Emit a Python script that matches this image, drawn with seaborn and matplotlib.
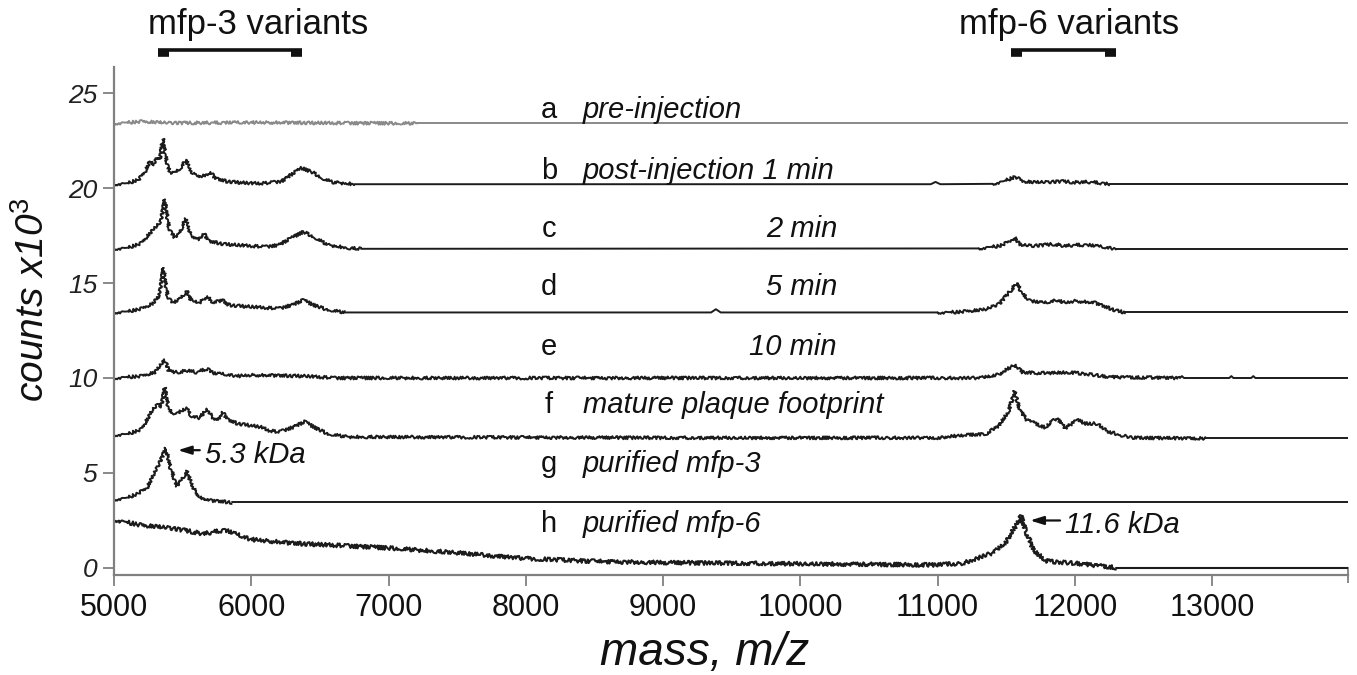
import numpy as np
import pandas as pd
import matplotlib
matplotlib.use("Agg")
import matplotlib.pyplot as plt
import seaborn as sns

sns.set_style("ticks")
plt.rcParams["font.family"] = ["Liberation Sans", "DejaVu Sans"]
plt.rcParams["mathtext.fontset"] = "custom"
plt.rcParams["mathtext.rm"] = "Liberation Sans"
plt.rcParams["mathtext.it"] = "Liberation Sans:italic"
plt.rcParams["mathtext.default"] = "it"

# ---------------- data (counts in thousands) ----------------
trace_ids = ["a", "b", "c", "d", "e", "f", "g", "h"]
trace_labels = ["pre-injection", "post-injection 1 min", "2 min", "5 min",
                "10 min", "mature plaque footprint", "purified mfp-3", "purified mfp-6"]

a_mz = [5000, 5200, 5400, 6000, 6600, 7210, 13990]
a_counts = [23.4, 23.5, 23.42, 23.45, 23.42, 23.4, 23.4]

b_mz = [5000, 5100, 5180, 5230, 5262, 5290, 5313, 5335, 5356, 5380, 5407, 5450, 5490, 5524,
        5550, 5575, 5640, 5705, 5740, 5820, 5900, 6000, 6100, 6220, 6300, 6367, 6440, 6520,
        6595, 6680, 6750, 10950, 10985, 11020, 11400, 11480, 11567, 11620, 11700, 11800,
        11900, 12000, 12100, 12180, 12250, 13990]
b_counts = [20.2, 20.25, 20.45, 20.9, 21.4, 21.2, 21.6, 21.5, 22.6, 21.5, 20.8, 20.8, 21.1, 21.5,
            21.0, 20.75, 20.6, 20.8, 20.5, 20.35, 20.3, 20.25, 20.25, 20.35, 20.75, 21.05, 20.85, 20.5,
            20.3, 20.25, 20.2, 20.2, 20.32, 20.2, 20.22, 20.35, 20.6, 20.35, 20.3, 20.3,
            20.35, 20.3, 20.32, 20.27, 20.2, 20.2]

c_mz = [5000, 5100, 5200, 5260, 5300, 5340, 5370, 5400, 5440, 5480, 5520, 5560, 5620, 5655,
        5690, 5800, 5900, 6000, 6100, 6200, 6300, 6380, 6460, 6560, 6700, 6800, 11300, 11450,
        11530, 11560, 11600, 11700, 11850, 11920, 12000, 12100, 12200, 12300, 13990]
c_counts = [16.8, 16.85, 17.1, 17.6, 17.9, 18.2, 19.4, 17.9, 17.4, 17.6, 18.4, 17.5, 17.3, 17.6,
            17.2, 17.05, 17.0, 16.95, 16.9, 17.0, 17.4, 17.7, 17.4, 17.0, 16.85, 16.8, 16.82, 16.95,
            17.2, 17.4, 17.0, 16.95, 17.05, 16.95, 17.0, 17.0, 16.9, 16.8, 16.8]

d_mz = [5000, 5100, 5200, 5280, 5330, 5360, 5390, 5430, 5490, 5530, 5560, 5620, 5680, 5720,
        5790, 5830, 5900, 6000, 6100, 6200, 6300, 6380, 6450, 6550, 6680, 9350, 9385, 9420,
        11000, 11140, 11350, 11450, 11520, 11577, 11620, 11680, 11780, 11870, 11930, 12000,
        12080, 12150, 12220, 12300, 12366, 13990]
d_counts = [13.45, 13.5, 13.65, 13.9, 14.3, 15.8, 14.3, 13.95, 14.2, 14.6, 14.1, 13.95, 14.3, 13.95,
            14.1, 13.85, 13.8, 13.75, 13.7, 13.65, 13.85, 14.1, 13.85, 13.6, 13.45, 13.45, 13.62, 13.45,
            13.45, 13.47, 13.6, 13.9, 14.5, 15.0, 14.4, 14.05, 13.95, 14.1, 13.95, 14.05,
            14.0, 13.95, 13.75, 13.55, 13.45, 13.45]

e_mz = [5000, 5200, 5300, 5371, 5400, 5460, 5540, 5600, 5684, 5720, 5800, 5900, 6000, 6400,
        6600, 8000, 10000, 11300, 11450, 11560, 11620, 11800, 11950, 12100, 12250, 12766,
        12780, 12795, 13125, 13140, 13155, 13285, 13300, 13315, 13990]
e_counts = [10.0, 10.1, 10.3, 10.95, 10.35, 10.3, 10.4, 10.3, 10.5, 10.25, 10.2, 10.1, 10.15, 10.1,
            10.0, 10.0, 10.0, 10.0, 10.2, 10.7, 10.3, 10.25, 10.3, 10.2, 10.05, 10.0,
            10.1, 10.0, 10.0, 10.1, 10.0, 10.0, 10.1, 10.0, 10.0]

f_mz = [5000, 5100, 5200, 5250, 5280, 5320, 5345, 5370, 5400, 5450, 5500, 5530, 5560, 5620,
        5680, 5720, 5760, 5790, 5830, 5900, 6000, 6080, 6120, 6200, 6300, 6390, 6460, 6560,
        6700, 9000, 11000, 11200, 11350, 11450, 11520, 11560, 11600, 11650, 11780, 11870,
        11930, 12016, 12080, 12162, 12235, 12330, 12425, 12950, 13990]
f_counts = [7.0, 7.05, 7.3, 7.9, 8.3, 8.6, 8.5, 9.5, 8.3, 8.1, 8.3, 8.4, 8.0, 7.9,
            8.35, 7.9, 7.8, 8.2, 7.8, 7.6, 7.5, 7.4, 7.25, 7.15, 7.4, 7.7, 7.4, 7.05,
            6.9, 6.85, 6.85, 7.0, 7.05, 7.5, 8.3, 9.3, 8.3, 7.8, 7.4, 7.9,
            7.35, 7.8, 7.6, 7.6, 7.2, 7.0, 6.85, 6.82, 6.82]

g_mz = [5000, 5100, 5167, 5240, 5290, 5330, 5378, 5410, 5458, 5500, 5531, 5570, 5625, 5700,
        5858, 13990]
g_counts = [3.6, 3.7, 3.9, 4.2, 4.9, 5.5, 6.3, 5.3, 4.3, 4.7, 5.1, 4.3, 3.7, 3.55,
            3.45, 3.45]

h_mz = [5000, 5200, 5400, 5500, 5650, 5807, 5900, 6000, 6300, 6600, 7000, 7500, 8000, 8500,
        9000, 10000, 11000, 11186, 11404, 11500, 11560, 11608, 11640, 11700, 11800, 12000,
        12300, 13990]
h_counts = [2.55, 2.25, 2.1, 2.0, 1.8, 2.0, 1.75, 1.5, 1.3, 1.2, 1.05, 0.8, 0.5, 0.35,
            0.28, 0.22, 0.16, 0.25, 0.8, 1.4, 2.1, 2.75, 2.0, 0.9, 0.35, 0.25,
            0.02, 0.02]

# m/z ranges of the spectrum that carry noise
a_noisy = [(5000, 7210)]
b_noisy = [(5000, 6750), (11400, 12250)]
c_noisy = [(5000, 6800), (11300, 12300)]
d_noisy = [(5000, 6680), (11000, 12366)]
e_noisy = [(5000, 12766)]
f_noisy = [(5000, 12950)]
g_noisy = [(5000, 5858)]
h_noisy = [(5000, 12300)]

mfp3_range = [5320, 6367]
mfp6_range = [11538, 12302]
ann_53 = (5465, 6.2)     # 5.3 kDa peak
ann_116 = (11674, 2.5)   # 11.6 kDa peak

x_ticks = [5000, 6000, 7000, 8000, 9000, 10000, 11000, 12000, 13000]
y_ticks = [0, 5, 10, 15, 20, 25]

traces = {
    "a": (a_mz, a_counts, a_noisy),
    "b": (b_mz, b_counts, b_noisy),
    "c": (c_mz, c_counts, c_noisy),
    "d": (d_mz, d_counts, d_noisy),
    "e": (e_mz, e_counts, e_noisy),
    "f": (f_mz, f_counts, f_noisy),
    "g": (g_mz, g_counts, g_noisy),
    "h": (h_mz, h_counts, h_noisy),
}

# ---------------- figure ----------------
fig = plt.figure(figsize=(13.57, 6.75), dpi=100)
ax = fig.add_axes([114 / 1357, 100 / 675, (1348 - 114) / 1357, (575 - 67) / 675])

XMIN, XMAX = 5000, 13990
ax.set_xlim(XMIN, XMAX)
ax.set_ylim(-0.37, 26.37)

ink = "#1c1c1c"
for tid in trace_ids:
    mz, cnt, noisy = traces[tid]
    df = pd.DataFrame({"mz": mz, "counts": cnt})
    color = "#8a8a8a" if tid == "a" else ink
    # split into noisy / clean pieces
    bounds = sorted(set([XMIN, XMAX] + [v for seg in noisy for v in seg]))
    for lo, hi in zip(bounds[:-1], bounds[1:]):
        part = df[(df.mz >= lo) & (df.mz <= hi)]
        if len(part) < 2:
            continue
        is_noisy = any(lo >= s and hi <= e for s, e in noisy)
        n0 = len(ax.lines)
        sns.lineplot(data=part, x="mz", y="counts", ax=ax, color=color,
                     lw=1.4 if tid != "h" else 1.5, sort=False, estimator=None, legend=False)
        if is_noisy:
            for ln in ax.lines[n0:]:
                ln.set_sketch_params(scale=2.0 if tid == "h" else 1.5, length=2.2, randomness=2.5)

# axes styling
for side in ["top", "right"]:
    ax.spines[side].set_visible(False)
for side in ["left", "bottom"]:
    ax.spines[side].set_color("#808080")
    ax.spines[side].set_linewidth(1.6)

ax.set_xticks(x_ticks)
ax.set_xticklabels([str(t) for t in x_ticks])
ax.set_yticks(y_ticks)
ax.set_yticklabels([str(t) for t in y_ticks])
ax.tick_params(axis="x", length=8, width=1.3, color="#808080", labelsize=22, pad=5, labelcolor="#111111")
ax.tick_params(axis="y", length=8, width=1.3, color="#808080", labelsize=19, pad=4, labelcolor="#222222")
for lbl in ax.get_yticklabels():
    lbl.set_style("italic")
ax.set_xticks([XMAX], minor=True)
ax.tick_params(axis="x", which="minor", direction="inout", length=12, width=1.3, color="#808080")

ax.set_xlabel("mass, m/z", fontsize=33, style="italic", color="#111111")
ax.xaxis.set_label_coords((705 - 114) / 1234, (575 - 665) / 508)
ax.xaxis.label.set_va("baseline")
ax.set_ylabel(r"counts x10$^{3}$", fontsize=28, style="italic", color="#111111")
ax.yaxis.set_label_coords((33 - 114) / 1234, (575 - 300) / 508)
ax.yaxis.label.set_va("center")

# trace labels
label_y = [23.7, 20.5, 17.4, 14.35, 11.2, 8.15, 5.05, 1.9]
right_aligned = {"c", "d", "e"}
for tid, lab, yb in zip(trace_ids, trace_labels, label_y):
    ax.text(8170, yb, tid, ha="center", va="baseline", fontsize=21, color="#111111")
    if tid in right_aligned:
        ax.text(10268, yb, lab, ha="right", va="baseline", fontsize=21, style="italic", color="#111111")
    else:
        ax.text(8417, yb, lab, ha="left", va="baseline", fontsize=21, style="italic", color="#111111")

# annotations
arrow_kw = dict(arrowstyle="-|>,head_length=0.8,head_width=0.25", color="#111111", lw=1.6,
                shrinkA=0, shrinkB=0)
ax.annotate("", xy=ann_53, xytext=(5625, ann_53[1]), arrowprops=arrow_kw)
ax.text(5662, 5.5, "5.3 kDa", ha="left", va="baseline", fontsize=21, style="italic", color="#111111")
ax.annotate("", xy=ann_116, xytext=(11892, ann_116[1]), arrowprops=arrow_kw)
ax.text(11929, 1.85, "11.6 kDa", ha="left", va="baseline", fontsize=21, style="italic", color="#111111")

# variant brackets above the axes
for rng, name in [(mfp3_range, "mfp-3 variants"), (mfp6_range, "mfp-6 variants")]:
    ax.plot(rng, [27.25, 27.25], color="#111111", lw=2.6, clip_on=False, solid_capstyle="butt")
    w = 80
    ax.plot([rng[0], rng[0] + w], [27.12, 27.12], color="#111111", lw=5.5, clip_on=False,
            solid_capstyle="butt")
    ax.plot([rng[1] - w, rng[1]], [27.12, 27.12], color="#111111", lw=5.5, clip_on=False,
            solid_capstyle="butt")
ax.text(6047, 28.6, "mfp-3 variants", ha="center", va="center", fontsize=25, color="#111111",
        clip_on=False)
ax.text(11958, 28.6, "mfp-6 variants", ha="center", va="center", fontsize=25, color="#111111",
        clip_on=False)

fig.savefig("out.png", dpi=100)
